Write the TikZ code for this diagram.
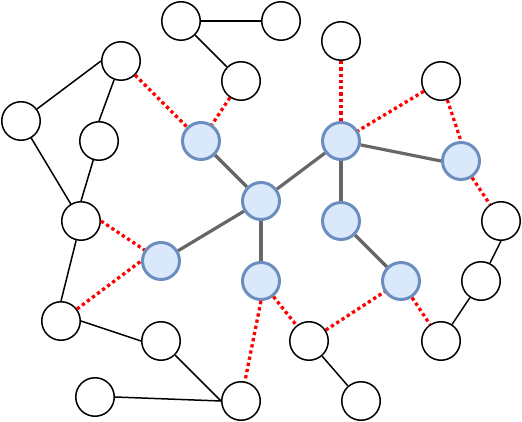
\documentclass[tikz,border=0pt]{standalone}
\definecolor{palFill}{HTML}{DAE8FC}
\definecolor{palLine}{HTML}{6C8EBF}
\definecolor{palGray}{HTML}{666666}
\definecolor{palRed}{HTML}{FF0000}

\begin{document}
\begin{tikzpicture}[
    x=1pt, y=-1pt,
    plain/.style={circle, draw=black, line width=1.5pt, fill=white,
                  minimum size=38.5pt, inner sep=0pt},
    core/.style={circle, draw=palLine, line width=3pt, fill=palFill,
                 minimum size=37pt, inner sep=0pt},
    link/.style={black, line width=1.5pt},
    bond/.style={palGray, line width=3.2pt},
    cut/.style={palRed, line width=3.3pt, dash pattern=on 3.3pt off 3pt},
]
\useasboundingbox (0,0) rectangle (522,422);

% --- outer nodes ---
\node[plain] (w1) at (181, 21) {};
\node[plain] (w2) at (281, 21) {};
\node[plain] (w3) at (121, 61) {};
\node[plain] (w4) at (241, 81) {};
\node[plain] (w5) at (341, 41) {};
\node[plain] (w6) at (441, 81) {};
\node[plain] (w7) at (21, 121) {};
\node[plain] (w8) at (99, 141) {};
\node[plain] (w9) at (81, 221) {};
\node[plain] (w10) at (501, 221) {};
\node[plain] (w11) at (481, 281) {};
\node[plain] (w12) at (61, 321) {};
\node[plain] (w13) at (161, 341) {};
\node[plain] (w14) at (309, 341) {};
\node[plain] (w15) at (441, 341) {};
\node[plain] (w16) at (95, 397) {};
\node[plain] (w17) at (241, 401) {};
\node[plain] (w18) at (361, 401) {};

% --- core nodes ---
\node[core] (b1) at (201, 141) {};
\node[core] (b2) at (341, 141) {};
\node[core] (b3) at (461, 161) {};
\node[core] (b4) at (261, 201) {};
\node[core] (b5) at (341, 221) {};
\node[core] (b6) at (161, 261) {};
\node[core] (b7) at (261, 281) {};
\node[core] (b8) at (401, 281) {};

% --- outer links ---
\draw[link] (w1) -- (w2);
\draw[link] (w1) -- (w4);
\draw[link] (w3.west) -- (w7);
\draw[link] (w3) -- (w8.north);
\draw[link] (w8) -- (w9.north);
\draw[link] (w7) -- (w9);
\draw[link] (w9) -- (w12.north);
\draw[link] (w12.east) -- (w13.west);
\draw[link] (w13) -- (w17.west);
\draw[link] (w16.east) -- (w17.west);
\draw[link] (w14) -- (w18);
\draw[link] (w10.south) -- (w11);
\draw[link] (w11) -- (w15);

% --- core bonds ---
\draw[bond] (b1) -- (b4);
\draw[bond] (b4) -- (b2);
\draw[bond] (b4) -- (b6);
\draw[bond] (b4) -- (b7);
\draw[bond] (b2) -- (b5);
\draw[bond] (b2) -- (b3.west);
\draw[bond] (b5) -- (b8);

% --- dotted cuts ---
\draw[cut] (w3) -- (b1);
\draw[cut] (w4) -- (b1);
\draw[cut] (w5) -- (b2);
\draw[cut] (w6) -- (b2);
\draw[cut] (w6) -- (b3.north);
\draw[cut] (b3) -- (w10);
\draw[cut] (w9.east) -- (b6);
\draw[cut] (w12) -- (b6.west);
\draw[cut] (b7.south) -- (w17);
\draw[cut] (b7) -- (w14);
\draw[cut] (w14) -- (b8);
\draw[cut] (b8) -- (w15);

\end{tikzpicture}
\end{document}
